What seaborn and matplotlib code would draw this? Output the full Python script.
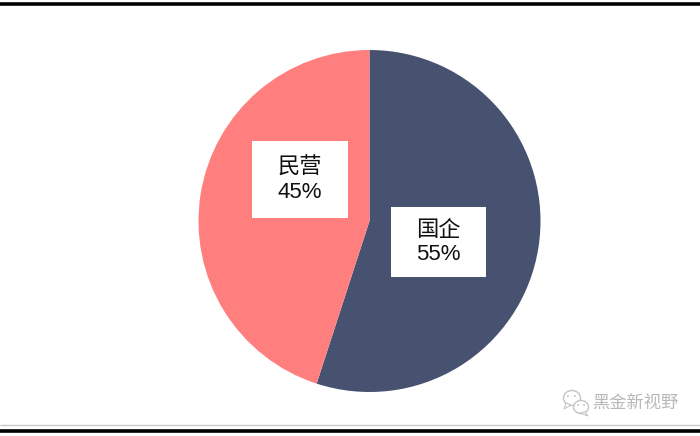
import matplotlib
matplotlib.use("Agg")
import matplotlib.pyplot as plt
import seaborn as sns
from matplotlib.patches import Ellipse, Polygon, Rectangle

categories = ["国企", "民营"]
shares = [55, 45]
colors = ["#475270", "#FF7F7F"]
watermark = "黑金新视野"

sns.set_theme(style="white")
plt.rcParams["font.family"] = ["Liberation Sans", "Noto Sans CJK SC", "DejaVu Sans"]

fig = plt.figure(figsize=(7, 4.36), dpi=100, facecolor="white")
# 坐标直接用像素，方便对位
ax = fig.add_axes([0, 0, 1, 1])

# y 轴反向后角度是镜像的，所以 270 起、逆时针 = 画面上从顶部顺时针
ax.pie(shares, colors=colors, startangle=270, counterclock=True,
       center=(369.5, 221), radius=171, frame=True,
       wedgeprops={"linewidth": 0, "edgecolor": "none"})
ax.set_xlim(0, 700)
ax.set_ylim(436, 0)
ax.set_aspect("equal")
ax.axis("off")

# 标签白底框
boxes = [(391, 207, 95, 70), (252, 141, 96, 77)]
for (x, y, w, h), name, val in zip(boxes, categories, shares):
    ax.add_patch(Rectangle((x, y), w, h, fc="white", ec="none", zorder=3))
    ax.text(x + w / 2, y + h / 2 + 0.5, f"{name}\n{val}%", ha="center", va="center",
            fontsize=16, color="#111111", linespacing=1.2, zorder=4)

# 上下横线
ax.plot([0, 700], [4, 4], color="black", lw=2.6, solid_capstyle="butt")
ax.plot([0, 700], [425, 425], color="#c8c8c8", lw=1.0, solid_capstyle="butt")
ax.plot([0, 700], [430.5, 430.5], color="black", lw=2.6, solid_capstyle="butt")

# 水印：微信图标 + 文字
wm = "#c4c4c4"
ax.add_patch(Ellipse((572, 398), 17, 15, fc="white", ec=wm, lw=1.0, zorder=5))
ax.add_patch(Polygon([(566, 403), (564, 409), (571, 405)], fc="white", ec=wm, lw=0.8, zorder=5))
ax.add_patch(Ellipse((581, 407), 15, 13, fc="white", ec=wm, lw=1.0, zorder=6))
ax.add_patch(Polygon([(585, 412), (588, 416), (580, 413)], fc="white", ec=wm, lw=0.8, zorder=6))
for px, py in [(568, 396), (575, 396), (578, 405), (584, 405)]:
    ax.add_patch(Ellipse((px, py), 2, 2, fc=wm, ec="none", zorder=7))
ax.text(635, 404, watermark, ha="center", va="center", fontsize=12.4, color="#b8b8b8",
        family=["Noto Sans CJK SC", "DejaVu Sans"], zorder=5)

fig.savefig("out.png", dpi=100, facecolor="white")
plt.close(fig)
